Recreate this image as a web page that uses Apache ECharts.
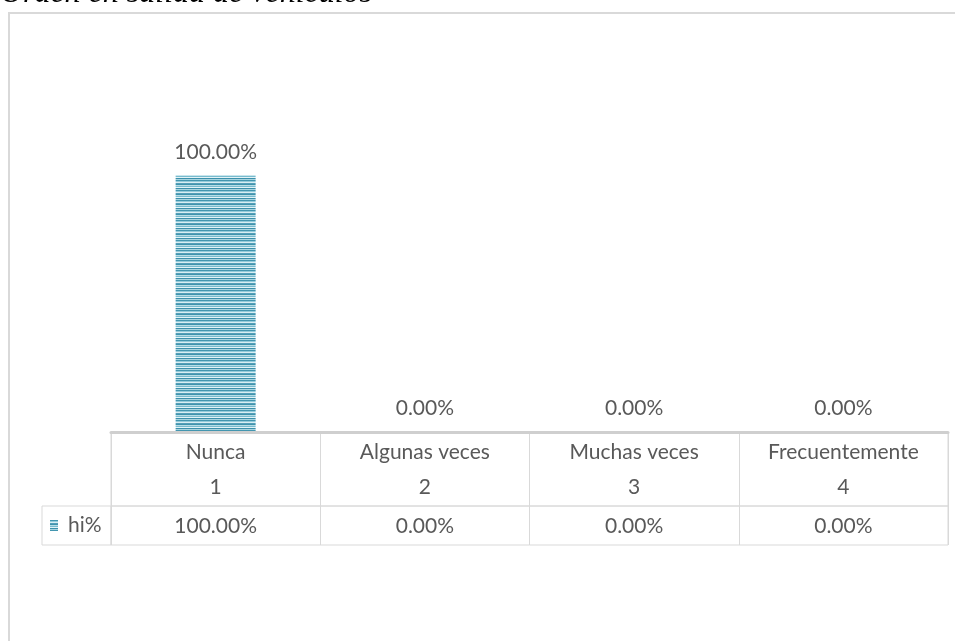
<!DOCTYPE html>
<html>
<head>
<meta charset="utf-8">
<style>
  html, body { margin: 0; padding: 0; background: #fff; }
  #chart { width: 955px; height: 641px; }
</style>
<script src="https://cdn.jsdelivr.net/npm/echarts@6/dist/echarts.min.js"></script>
</head>
<body>
<div id="chart"></div>
<script>
// Response categories and their codes
const categories = ['Nunca', 'Algunas veces', 'Muchas veces', 'Frecuentemente'];
const codes = ['1', '2', '3', '4'];
// Relative frequency (hi%) per category, as fractions
const hiValues = [1.0, 0.0, 0.0, 0.0];
const seriesName = 'hi%';
const chartTitle = 'Orden en salida de vehículos';

const pct = v => (v * 100).toFixed(2) + '%';

// Horizontal striped fill for the bars
function stripePattern() {
  const rows = ['#4396b0', '#93cbda', '#d9eef4', '#559fb8', '#3f93ad', '#b6dde7', '#78bbcd', '#e3f3f7', '#3b90ab', '#a6d4e0'];
  const c = document.createElement('canvas');
  c.width = 4; c.height = rows.length;
  const ctx = c.getContext('2d');
  rows.forEach((col, i) => { ctx.fillStyle = col; ctx.fillRect(0, i, 4, 1); });
  return c;
}

const FONT = 'Lato, "Open Sans", sans-serif';
const FS = 21;
const TXT = '#595959';
const LINE = '#d9d9d9';

const plotLeft = 111, plotRight = 7;

const chart = echarts.init(document.getElementById('chart'), null, { renderer: 'canvas' });
chart.setOption({
  animation: false,
  textStyle: { fontFamily: FONT },
  graphic: [
    { type: 'rect', shape: { x: 9, y: 13, width: 1000, height: 700 },
      style: { fill: 'none', stroke: '#d9d9d9', lineWidth: 2 }, z: -10 },
    { type: 'text', x: 0, y: 10, z: 10,
      style: { text: chartTitle, font: 'italic 32px "Liberation Serif", "Times New Roman", serif',
        fill: '#000', verticalAlign: 'bottom', align: 'left' } }
  ],
  legend: {
    data: [seriesName],
    left: 50, top: 515, padding: 0,
    itemWidth: 8, itemHeight: 11, itemGap: 4,
    icon: 'rect',
    textStyle: { fontFamily: FONT, fontSize: FS, color: TXT, padding: [0, 0, 0, 5] }
  },
  grid: [
    // bars
    { left: plotLeft, right: plotRight, top: 124, bottom: 209 },
    // header rows of the data table
    { left: plotLeft, right: plotRight, top: 432, height: 74, show: true, borderColor: LINE, borderWidth: 1 },
    // value row of the data table
    { left: plotLeft, right: plotRight, top: 506, height: 39, show: true, borderColor: LINE, borderWidth: 1 },
    // legend cell
    { left: 42, width: plotLeft - 42, top: 506, height: 39, show: true, borderColor: LINE, borderWidth: 1 }
  ],
  xAxis: [
    { gridIndex: 0, type: 'category', data: categories, z: 5,
      axisLine: { show: true, lineStyle: { color: '#cfcfcf', width: 3 } },
      axisTick: { show: false },
      axisLabel: { show: false } },
    { gridIndex: 1, type: 'category', data: categories, position: 'top',
      axisLine: { show: false }, axisTick: { show: false },
      splitLine: { show: true, interval: 0, lineStyle: { color: LINE, width: 1 } },
      axisLabel: { inside: true, margin: 3, interval: 0, fontSize: FS, color: TXT, lineHeight: 35,
        formatter: (v, i) => v + '\n' + codes[i] } },
    { gridIndex: 2, type: 'category', data: categories, position: 'top',
      axisLine: { show: false }, axisTick: { show: false },
      splitLine: { show: true, interval: 0, lineStyle: { color: LINE, width: 1 } },
      axisLabel: { inside: true, margin: 1, interval: 0, fontSize: FS, color: TXT, lineHeight: 39,
        formatter: (v, i) => pct(hiValues[i]) } },
    { gridIndex: 3, type: 'value', show: false }
  ],
  yAxis: [
    { gridIndex: 0, type: 'value', min: 0, max: 1.2, show: false },
    { gridIndex: 1, type: 'value', show: false },
    { gridIndex: 2, type: 'value', show: false },
    { gridIndex: 3, type: 'value', show: false }
  ],
  series: [{
    name: seriesName,
    type: 'bar',
    xAxisIndex: 0, yAxisIndex: 0,
    data: hiValues,
    barWidth: 80,
    itemStyle: { color: { image: stripePattern(), repeat: 'repeat' } },
    label: { show: true, position: 'top', distance: 13, fontSize: FS, color: TXT,
      formatter: p => pct(p.value) }
  }]
});
</script>
</body>
</html>
